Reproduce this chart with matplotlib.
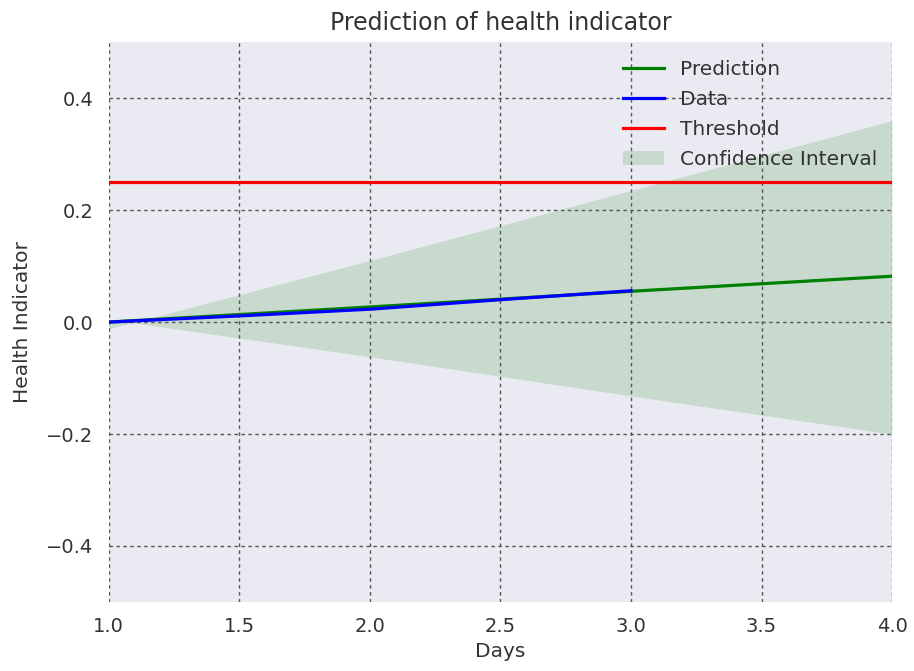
import numpy as np
import matplotlib
matplotlib.use('Agg')
import matplotlib.pyplot as plt

# observed data (days 1-3)
data_days = [1.0, 1.5, 2.0, 2.5, 3.0]
data_values = [0.0, 0.011, 0.023, 0.040, 0.056]

# model prediction and its confidence band (days 1-4)
pred_days = [1.0, 2.0, 3.0, 4.0]
pred_values = [0.0, 0.027, 0.055, 0.082]
ci_upper = [-0.012, 0.110, 0.235, 0.360]
ci_lower = [0.005, -0.062, -0.132, -0.200]

threshold = 0.25

plt.rcParams['font.family'] = 'DejaVu Sans'
plt.rcParams['text.color'] = '#333333'
plt.rcParams['axes.labelcolor'] = '#333333'
plt.rcParams['xtick.color'] = '#333333'
plt.rcParams['ytick.color'] = '#333333'

fig = plt.figure(figsize=(9.14, 6.71), dpi=100)
ax = fig.add_axes([0.119, 0.103, 0.857, 0.834])
ax.set_facecolor('#EAEAF2')
for s in ax.spines.values():
    s.set_visible(False)

ax.plot(pred_days, pred_values, color='green', lw=2.3, label='Prediction', zorder=3)
ax.plot(data_days, data_values, color='blue', lw=2.3, label='Data', zorder=4)
ax.axhline(threshold, color='red', lw=2.3, label='Threshold', zorder=3)
ax.fill_between(pred_days, ci_lower, ci_upper, color='green', alpha=0.15,
                lw=0, label='Confidence Interval', zorder=1)

ax.set_xlim(1, 4)
ax.set_ylim(-0.5, 0.5)
ax.set_xticks(np.arange(1.0, 4.01, 0.5))
ax.set_yticks([-0.4, -0.2, 0.0, 0.2, 0.4])
ax.grid(True, color='#555555', linestyle=(0, (2.5, 2.5)), lw=1.0, zorder=2)
ax.set_axisbelow(False)
ax.tick_params(length=0, labelsize=14, pad=11)

ax.set_title('Prediction of health indicator', fontsize=17, pad=9)
ax.set_xlabel('Days', fontsize=14.5, labelpad=4)
ax.set_ylabel('Health Indicator', fontsize=14.5, labelpad=10)

leg = ax.legend(loc='upper right', bbox_to_anchor=(1.0, 0.995), fontsize=14.5,
                frameon=False, handlelength=2, handletextpad=0.8,
                borderaxespad=0.35, labelspacing=0.55)

fig.savefig('out.png', dpi=100)
